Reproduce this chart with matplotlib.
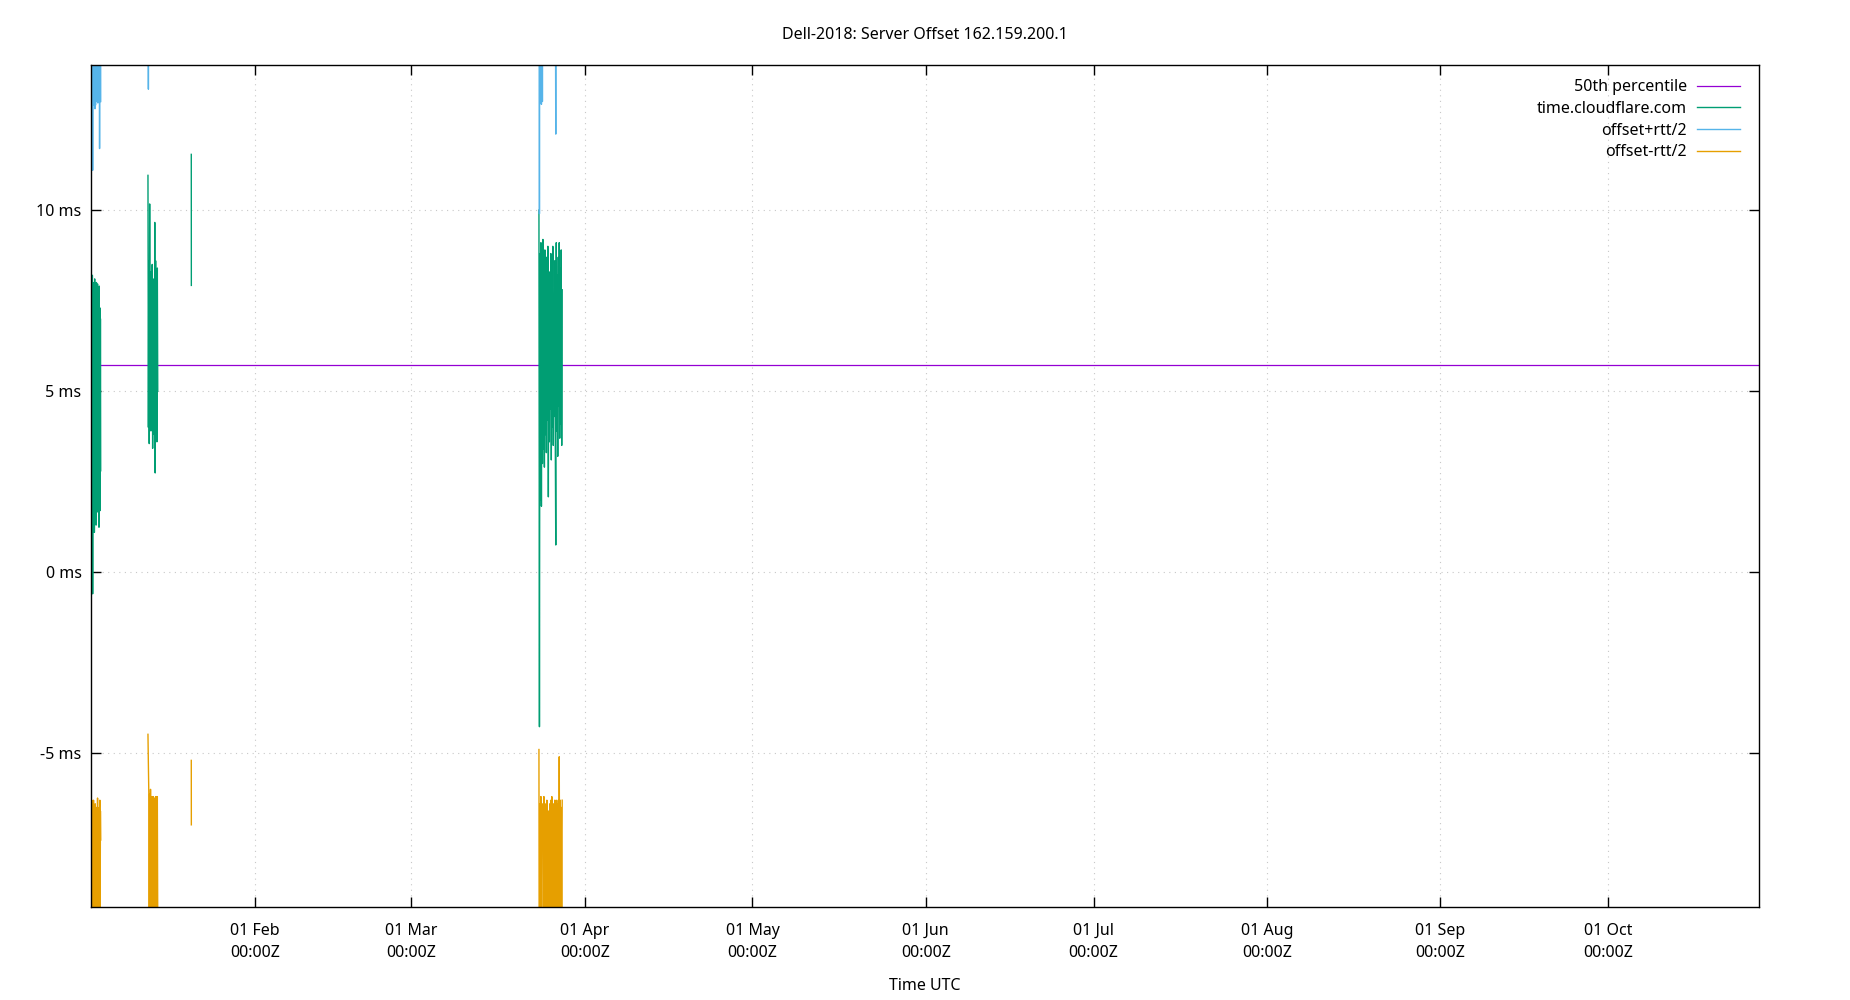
import matplotlib
matplotlib.use('Agg')
import matplotlib.pyplot as plt
import matplotlib.dates as mdates
from matplotlib.ticker import FuncFormatter, MultipleLocator
import numpy as np
import pandas as pd

plt.rcParams['font.family'] = ['Noto Sans', 'DejaVu Sans']

title = 'Dell-2018: Server Offset 162.159.200.1'
server = 'time.cloudflare.com'
median_offset = 5.72  # ms, 50th percentile of all samples

# polling bursts, first and last sample (UTC)
span_jan02 = ('2023-01-02 15:36', '2023-01-04 10:48')
span_jan12 = ('2023-01-12 21:36', '2023-01-14 15:36')
span_jan20 = ('2023-01-20 15:30', '2023-01-20 15:45')
span_mar23 = ('2023-03-23 19:40', '2023-03-27 23:30')

# offset and round trip time, ms
offset_jan02 = [9.5, 1.2, 8.4, 0.8, 7.9, 2.0, 8.2, -0.6, 7.6, 1.5, 8.0, 2.3, 7.4, 1.1, 8.1, 1.8, 6.9, 2.4,
                7.7, 1.3, 8.0, 2.6, 7.2, 1.9, 7.96, 1.66, 7.5, 2.2, 6.8, 1.24, 7.9, 2.5, 7.3, 1.7, 7.0, 2.8]
rtt_jan02 = [31.8, 23.6, 29.8, 24.4, 28.4, 21.2, 30.0, 23.4, 28.4, 22.8, 28.6, 21.6, 28.0, 23.8, 29.6, 22.0, 26.6, 21.0,
             28.8, 23.6, 29.0, 20.8, 27.6, 22.4, 28.4, 22.6, 28.2, 21.8, 26.8, 23.6, 28.8, 18.4, 27.2, 22.6, 27.2, 20.4]

offset_jan12 = [10.96, 4.0, 8.6, 3.55, 10.17, 4.6, 8.3, 3.9, 7.6, 4.8, 8.5, 3.42,
                7.9, 4.3, 8.1, 3.8, 9.66, 2.74, 8.6, 4.4, 7.3, 3.6, 8.4, 5.0]
rtt_jan12 = [30.88, 18.68, 29.4, 26.4, 32.6, 29.0, 28.6, 27.6, 27.6, 30.0, 29.4, 26.4,
             28.2, 28.0, 28.8, 27.0, 31.8, 25.2, 29.6, 28.4, 27.0, 26.8, 29.2, 29.6]

offset_jan20 = [11.54, 7.92]
rtt_jan20 = [33.48, 29.8]

offset_mar23 = [10.0, -4.27, 8.8, 2.0, 9.1, 1.82, 8.4, 3.0, 9.19, 3.4, 8.2, 2.9, 8.9, 3.8, 7.9, 3.3,
                8.7, 4.2, 9.0, 2.08, 8.3, 3.6, 7.8, 4.5, 8.8, 3.1, 8.5, 4.0, 9.0, 3.5, 7.6, 4.3,
                8.6, 3.7, 0.75, 9.1, 3.9, 8.2, 3.2, 8.7, 4.6, 9.1, 3.7, 8.4, 4.1, 8.9, 3.5, 7.8]
rtt_mar23 = [29.8, 28.34, 30.4, 21.92, 30.6, 22.2, 29.6, 20.0, 31.2, 26.4, 28.8, 25.6, 30.8, 27.2, 28.6, 26.4,
             30.0, 28.2, 31.2, 24.0, 29.8, 27.0, 28.4, 28.6, 30.2, 26.0, 29.4, 27.8, 31.0, 26.6, 28.0, 28.4,
             29.8, 27.2, 22.7, 30.8, 27.6, 29.2, 26.2, 30.0, 28.8, 28.4, 27.2, 29.4, 28.0, 30.8, 26.8, 28.2]

x_start = '2023-01-02 15:36'
x_end = '2023-10-28 00:00'
y_min, y_max = -9.25, 14.0

bursts = []
for (start, end), off, rtt in [(span_jan02, offset_jan02, rtt_jan02),
                               (span_jan12, offset_jan12, rtt_jan12),
                               (span_jan20, offset_jan20, rtt_jan20),
                               (span_mar23, offset_mar23, rtt_mar23)]:
    t = pd.date_range(start, end, periods=len(off))
    off = np.array(off)
    half = np.array(rtt) / 2
    bursts.append((t, off, off + half, off - half))

fs = 11.5
fig, ax = plt.subplots(figsize=(18.5, 10), dpi=100)
fig.subplots_adjust(left=0.049, right=0.9508, top=0.9347, bottom=0.093)

ax.axhline(median_offset, color='#9400d3', lw=0.9, label='50th percentile')
styles = [(server, '#009e73'), ('offset+rtt/2', '#56b4e9'), ('offset-rtt/2', '#e69f00')]
for k, (label, color) in enumerate(styles):
    for i, b in enumerate(bursts):
        ax.plot(b[0], b[k + 1], color=color, lw=1.0, label=label if i == 0 else None)

ax.set_xlim(pd.Timestamp(x_start), pd.Timestamp(x_end))
ax.set_ylim(y_min, y_max)
ax.xaxis.set_major_locator(mdates.MonthLocator())
ax.xaxis.set_major_formatter(mdates.DateFormatter('%d %b\n%H:%MZ'))
ax.yaxis.set_major_locator(MultipleLocator(5))
ax.yaxis.set_major_formatter(FuncFormatter(lambda v, p: f'{v:g} ms'))

ax.tick_params(direction='in', length=7, width=1, top=True, right=True, labelsize=fs)
ax.tick_params(axis='y', pad=6.5)
ax.tick_params(axis='x', pad=11.5)
for lbl in ax.get_xticklabels():
    lbl.set_linespacing(1.5)
ax.set_axisbelow(True)
ax.grid(True, color='#c8c8c8', linestyle=(0, (1, 4)), lw=0.8)
for s in ax.spines.values():
    s.set_linewidth(1.0)

ax.legend(loc='upper right', bbox_to_anchor=(0.9886, 0.9835), frameon=False, markerfirst=False,
          fontsize=fs, borderpad=0, borderaxespad=0, handlelength=2.7, handletextpad=0.62,
          labelspacing=0.36)

fig.text(925 / 1850, 1 - 35 / 1000, title, ha='center', va='center', fontsize=fs)
fig.text(925 / 1850, 0.0136, 'Time UTC', ha='center', va='center', fontsize=fs)

fig.savefig('out.png', dpi=100)
